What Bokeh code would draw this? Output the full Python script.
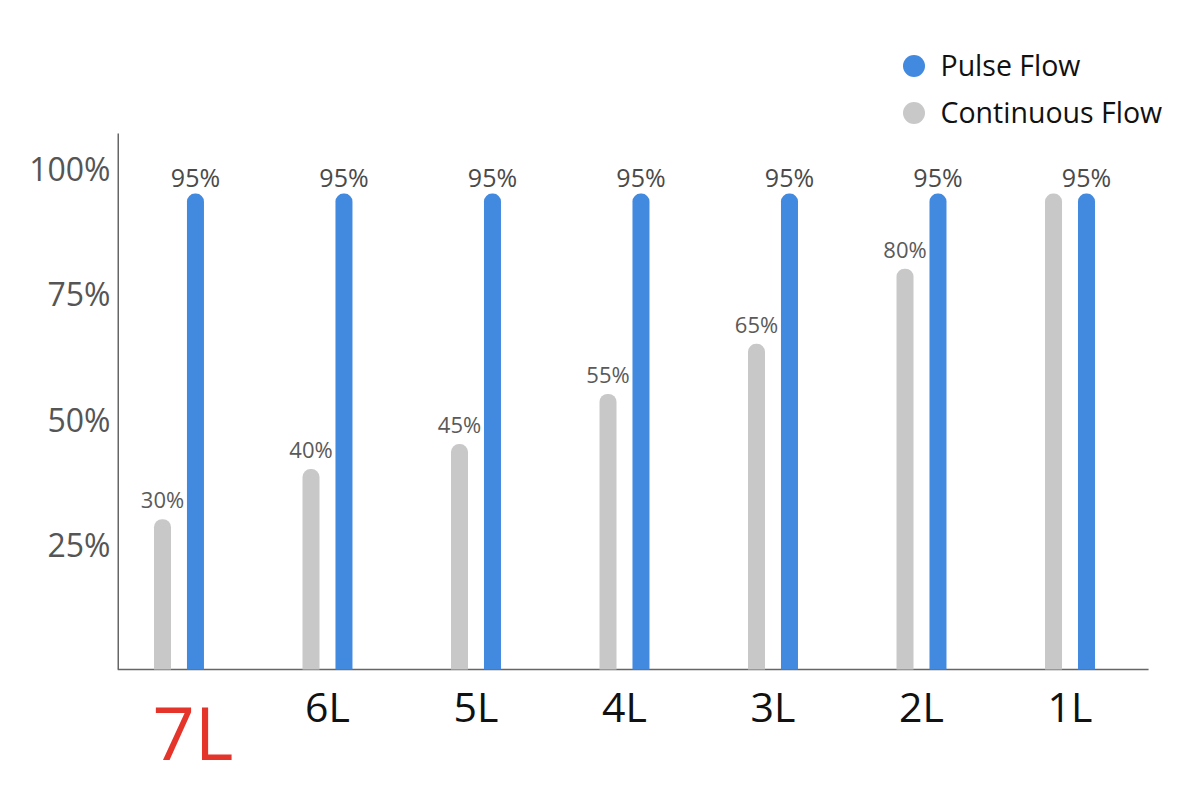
from bokeh.plotting import figure
from bokeh.models import (ColumnDataSource, Range1d, FixedTicker, PrintfTickFormatter,
                          Label, Legend, LegendItem)
from bokeh.core.properties import value
from bokeh.embed import file_html
from bokeh.resources import INLINE

categories = ["7L", "6L", "5L", "4L", "3L", "2L", "1L"]
continuous = [30, 40, 45, 55, 65, 80, 95]
pulse = [95, 95, 95, 95, 95, 95, 95]
continuous_labels = ["30%", "40%", "45%", "55%", "65%", "80%", ""]
pulse_labels = ["95%", "95%", "95%", "95%", "95%", "95%", "95%"]
y_ticks = [25, 50, 75, 100]
series_names = ["Pulse Flow", "Continuous Flow"]
highlight = "7L"

BLUE = "#4289e0"
GRAY = "#c8c8c8"
AXIS = "#666666"
FONT = "Open Sans"

# axis extents (data units)
X_START, X_END = -0.414, 6.771
AXIS_X_END = 6.529
Y_START, Y_END = -22.95, 133.53
AXIS_Y_TOP = 107.0

idx = list(range(len(categories)))
off = 0.111
bw = 0.1145

src = ColumnDataSource(dict(
    xg=[i - off for i in idx], xb=[i + off for i in idx],
    cont=continuous, pulse=pulse, cl=continuous_labels, pl=pulse_labels))

p = figure(width=1184, height=784, output_backend="svg", toolbar_location=None,
           x_range=Range1d(X_START, X_END), y_range=Range1d(Y_START, Y_END),
           min_border_left=117, min_border_right=0, min_border_top=0,
           min_border_bottom=0, x_axis_location=None)
p.outline_line_color = None
p.xgrid.visible = False
p.ygrid.visible = False
p.background_fill_color = "white"
p.border_fill_color = "white"

# axis lines
p.segment(x0=[X_START], y0=[0], x1=[X_START], y1=[AXIS_Y_TOP], line_color=AXIS, line_width=3)
p.segment(x0=[X_START], y0=[0], x1=[AXIS_X_END], y1=[0], line_color=AXIS, line_width=1.5)

p.vbar(x="xg", top="cont", width=bw, bottom=0, source=src, fill_color=GRAY,
       line_color=None, border_radius=(8, 8, 0, 0))
p.vbar(x="xb", top="pulse", width=bw, bottom=0, source=src, fill_color=BLUE,
       line_color=None, border_radius=(8, 8, 0, 0))

p.text(x="xg", y="cont", text="cl", source=src, text_align="center",
       text_baseline="alphabetic", y_offset=-20, text_font=value(FONT),
       text_font_size="22px", text_color="#5a5a5a")
p.text(x="xb", y="pulse", text="pl", source=src, text_align="center",
       text_baseline="alphabetic", y_offset=-17, text_font=value(FONT),
       text_font_size="25px", text_color="#4a4a4a")

# y axis (labels only; line drawn above)
p.yaxis.ticker = FixedTicker(ticks=y_ticks)
p.yaxis.formatter = PrintfTickFormatter(format="%d%%")
p.yaxis.major_tick_line_color = None
p.yaxis.minor_tick_line_color = None
p.yaxis.axis_line_color = None
p.yaxis.major_label_standoff = 1
p.yaxis.major_label_text_font = FONT
p.yaxis.major_label_text_font_size = "32px"
p.yaxis.major_label_text_color = "#555555"

# category labels
for i, c in zip(idx, categories):
    if c == highlight:
        lab = Label(x=i, y=53, x_units="data", y_units="screen", x_offset=14, text=c,
                    text_align="center", text_baseline="alphabetic",
                    text_font=FONT, text_font_size="74px", text_color="#e5352b")
    else:
        lab = Label(x=i, y=79, x_units="data", y_units="screen", text=c,
                    text_align="center", text_baseline="alphabetic",
                    text_font=FONT, text_font_size="41px", text_color="#111111")
    p.add_layout(lab)

# legend (one legend per entry so the row spacing can be matched)
nan = float("nan")
r_pulse = p.scatter(x=[nan], y=[nan], marker="circle", fill_color=BLUE, line_color=None)
r_cont = p.scatter(x=[nan], y=[nan], marker="circle", fill_color=GRAY, line_color=None)
for name, r, loc in [(series_names[0], r_pulse, (768.5, 691.5)),
                     (series_names[1], r_cont, (768.5, 644.5))]:
    lg = Legend(items=[LegendItem(label=name, renderers=[r])],
                location=loc, orientation="vertical",
                glyph_width=55, glyph_height=55, padding=0, margin=0,
                label_standoff=0, label_text_font=FONT, label_text_font_size="28.5px",
                label_text_color="#111111", border_line_color=None,
                background_fill_alpha=0)
    p.add_layout(lg, "center")

open("out.html", "w").write(file_html(p, INLINE))
